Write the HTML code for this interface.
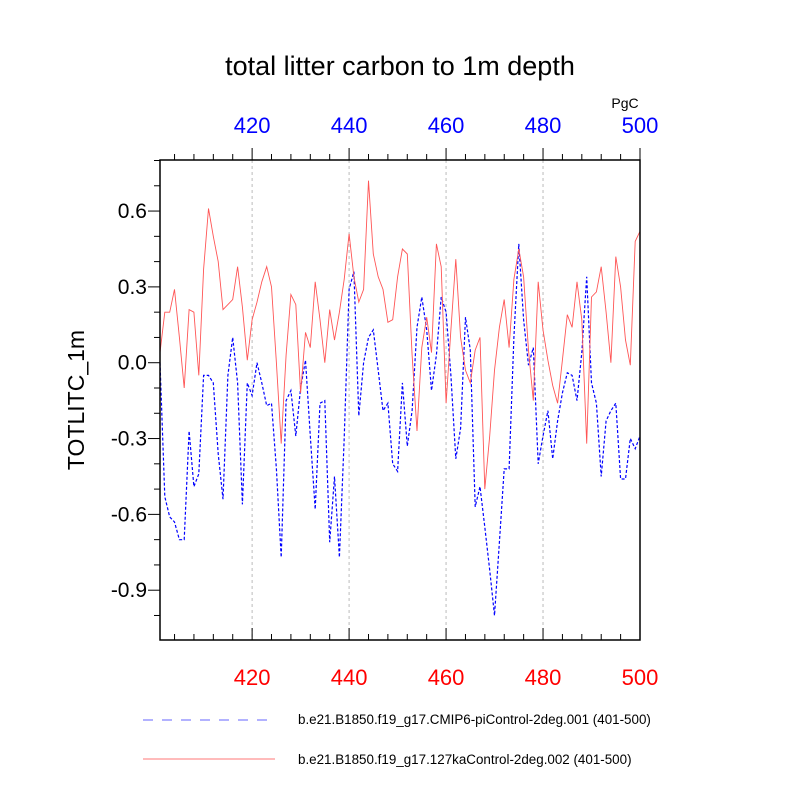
<!DOCTYPE html>
<html><head><meta charset="utf-8"><style>
html,body{margin:0;padding:0;background:#fff;}
svg{display:block;font-family:"Liberation Sans",sans-serif;}
</style></head><body>
<svg id="chart" width="800" height="800" viewBox="0 0 800 800">
<text x="400" y="75" font-size="27" text-anchor="middle">total litter carbon to 1m depth</text>
<text x="625" y="108" font-size="14" text-anchor="middle">PgC</text>
<text transform="translate(84,400) rotate(-90)" font-size="23" text-anchor="middle">TOTLITC_1m</text>
<g id="grid"></g>
<g id="axes"></g>
<g id="series"></g>
<rect x="160" y="160" width="480" height="480" fill="none" stroke="#000" stroke-width="1.5"/>
<g>
<line x1="143" y1="720" x2="272" y2="720" stroke="#6666ff" stroke-width="1" stroke-dasharray="10,9"/>
<text x="298" y="724" font-size="13.4">b.e21.B1850.f19_g17.CMIP6-piControl-2deg.001 (401-500)</text>
<line x1="143" y1="759" x2="275" y2="759" stroke="#ff7777" stroke-width="1"/>
<text x="298" y="764" font-size="13.4">b.e21.B1850.f19_g17.127kaControl-2deg.002 (401-500)</text>
</g>
</svg>
<script>
const years = Array.from({length:100},(_,i)=>401+i);
const redValues = [0.04,0.20,0.20,0.29,0.10,-0.10,0.21,0.20,-0.05,0.37,0.61,0.50,0.40,0.21,0.23,0.25,0.38,0.22,0.01,0.17,0.24,0.32,0.38,0.30,0.0,-0.32,0.03,0.27,0.23,-0.12,0.12,0.06,0.32,0.17,0.0,0.21,0.09,0.20,0.33,0.51,0.34,0.24,0.29,0.72,0.43,0.34,0.29,0.16,0.17,0.34,0.45,0.43,0.03,-0.27,0.06,0.18,0.04,0.47,0.38,-0.16,0.13,0.41,0.10,-0.03,-0.08,0.05,0.10,-0.50,-0.29,-0.03,0.14,0.25,0.06,0.33,0.45,0.34,0.05,-0.15,0.32,0.13,0.01,-0.09,-0.16,0.01,0.19,0.14,0.32,0.17,-0.32,0.26,0.28,0.38,0.20,0.0,0.42,0.30,0.09,-0.01,0.48,0.52];
const blueValues = [0.0,-0.53,-0.61,-0.63,-0.70,-0.70,-0.27,-0.49,-0.44,-0.05,-0.05,-0.08,-0.36,-0.54,-0.05,0.10,-0.08,-0.56,-0.08,-0.13,0.0,-0.08,-0.17,-0.16,-0.42,-0.77,-0.15,-0.11,-0.29,-0.10,0.01,-0.29,-0.58,-0.16,-0.15,-0.71,-0.45,-0.77,-0.30,0.29,0.36,-0.21,0.0,0.10,0.13,-0.03,-0.19,-0.16,-0.40,-0.43,-0.08,-0.33,-0.19,0.14,0.26,0.13,-0.11,0.03,0.26,0.20,-0.05,-0.38,-0.26,0.18,0.05,-0.57,-0.49,-0.65,-0.82,-1.00,-0.71,-0.42,-0.42,0.10,0.47,0.17,-0.01,0.06,-0.40,-0.29,-0.19,-0.38,-0.23,-0.12,-0.04,-0.05,-0.15,0.04,0.34,-0.08,-0.16,-0.45,-0.23,-0.19,-0.16,-0.46,-0.46,-0.30,-0.34,-0.29];
const xTickLabels = [420,440,460,480,500];
const yTickLabels = [0.6,0.3,0.0,-0.3,-0.6,-0.9];

const NS='http://www.w3.org/2000/svg';
const X0=160,X1=640,Y0=640,Y1=160;
const xMin=401,xMax=500,yMin=-1.097,yMax=0.802;
function xs(v){return X0+(v-xMin)/(xMax-xMin)*(X1-X0);}
function ys(v){return Y0-(v-yMin)/(yMax-yMin)*(Y0-Y1);}
function mk(tag,attrs,parent){const e=document.createElementNS(NS,tag);for(const k in attrs)e.setAttribute(k,attrs[k]);parent.appendChild(e);return e;}
const grid=document.getElementById('grid'),axes=document.getElementById('axes'),series=document.getElementById('series');

xTickLabels.forEach(t=>{
  const x=xs(t);
  if(t<500){const g=mk('line',{x1:x,y1:Y1,x2:x,y2:Y0,stroke:'#bbb','stroke-dasharray':'3,3','stroke-width':1},grid);
  
  }
  const tb=mk('text',{x:x,y:685,'font-size':22,'text-anchor':'middle',fill:'#ff0000'},axes);tb.textContent=t;
  
  
  const tt=mk('text',{x:x,y:133,'font-size':22,'text-anchor':'middle',fill:'#0000ff'},axes);tt.textContent=t;
  
  
});
for(let t=404;t<=500;t+=4){
  const x=xs(t),major=(t%20===0);const L=major?12:6;
  const a=mk('line',{x1:x,y1:Y0,x2:x,y2:Y0-L,stroke:'#000','stroke-width':1},axes);
  
  
  const b=mk('line',{x1:x,y1:Y1,x2:x,y2:Y1-L,stroke:'#000','stroke-width':1},axes);
  
  
}
for(let k=-10;k<=8;k++){
  const v=k/10,y=ys(v),major=(k%3===0);const L=major?12:6;
  const a=mk('line',{x1:X0,y1:y,x2:X0-L,y2:y,stroke:'#000','stroke-width':1},axes);
  
  
}
yTickLabels.forEach(v=>{
  const t=mk('text',{x:147,y:ys(v)+7,'font-size':21,'text-anchor':'end'},axes);t.textContent=v.toFixed(1);
  
  
});
function path(vals){return vals.map((v,i)=>(i?'L':'M')+xs(years[i]).toFixed(1)+','+ys(v).toFixed(1)).join('');}
const blue=mk('path',{d:path(blueValues),fill:'none',stroke:'#0000ff','stroke-width':1.2,'stroke-dasharray':'3,2'},series);


const red=mk('path',{d:path(redValues),fill:'none',stroke:'#ff5555','stroke-width':0.9},series);


</script>
</body></html>
